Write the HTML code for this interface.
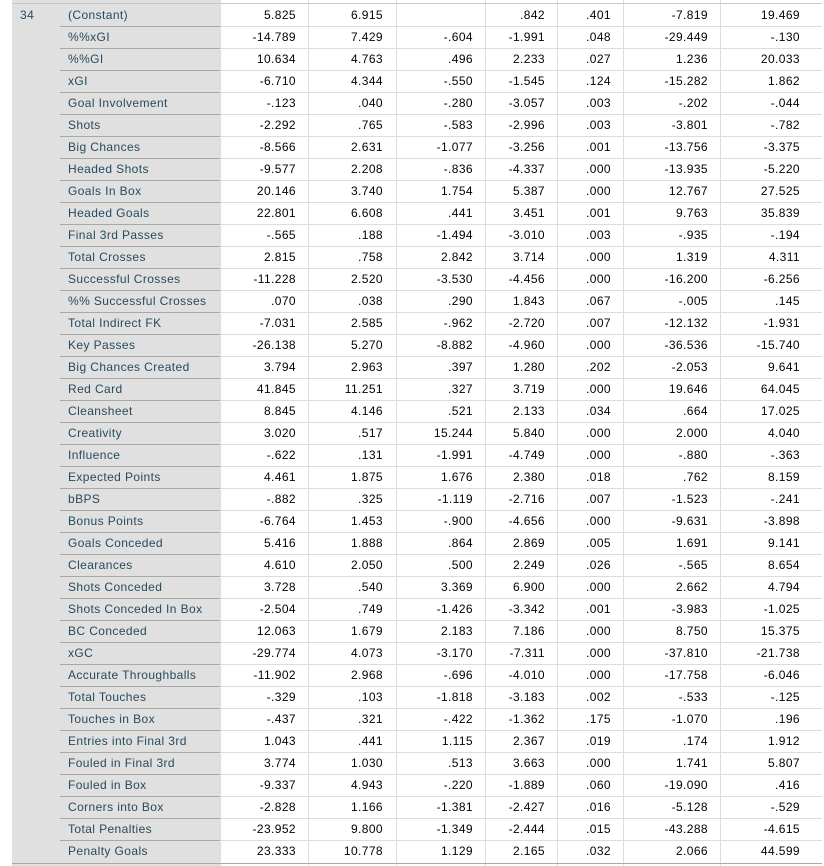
<!DOCTYPE html>
<html><head><meta charset="utf-8">
<style>
body{margin:0;width:824px;height:866px;background:#fff;overflow:hidden;font-family:"Liberation Sans",Arial,sans-serif;font-size:12px;letter-spacing:0.4px}
#wrap{position:relative;width:824px;height:866px}
.grey{position:absolute;left:12px;top:0;width:208px;height:866px;background:#e0e0e0}
.hl{position:absolute;height:1px}
.vl{position:absolute;width:1px;background:#dcdcdc}
.t{position:absolute;white-space:nowrap;line-height:22px;height:22px}
.lab{color:#264a60}
.num{color:#010205;text-align:right}
</style></head><body>
<div id="wrap">
<div class="grey"></div>
<div class="t lab" style="left:20px;top:4px">34</div>
</div>
<script>
const labels=["(Constant)","%%xGI","%%GI","xGI","Goal Involvement","Shots","Big Chances","Headed Shots","Goals In Box","Headed Goals","Final 3rd Passes","Total Crosses","Successful Crosses","%% Successful Crosses","Total Indirect FK","Key Passes","Big Chances Created","Red Card","Cleansheet","Creativity","Influence","Expected Points","bBPS","Bonus Points","Goals Conceded","Clearances","Shots Conceded","Shots Conceded In Box","BC Conceded","xGC","Accurate Throughballs","Total Touches","Touches in Box","Entries into Final 3rd","Fouled in Final 3rd","Fouled in Box","Corners into Box","Total Penalties","Penalty Goals"];
const colB=["5.825","-14.789","10.634","-6.710","-.123","-2.292","-8.566","-9.577","20.146","22.801","-.565","2.815","-11.228",".070","-7.031","-26.138","3.794","41.845","8.845","3.020","-.622","4.461","-.882","-6.764","5.416","4.610","3.728","-2.504","12.063","-29.774","-11.902","-.329","-.437","1.043","3.774","-9.337","-2.828","-23.952","23.333"];
const colSE=["6.915","7.429","4.763","4.344",".040",".765","2.631","2.208","3.740","6.608",".188",".758","2.520",".038","2.585","5.270","2.963","11.251","4.146",".517",".131","1.875",".325","1.453","1.888","2.050",".540",".749","1.679","4.073","2.968",".103",".321",".441","1.030","4.943","1.166","9.800","10.778"];
const colBeta=["","-.604",".496","-.550","-.280","-.583","-1.077","-.836","1.754",".441","-1.494","2.842","-3.530",".290","-.962","-8.882",".397",".327",".521","15.244","-1.991","1.676","-1.119","-.900",".864",".500","3.369","-1.426","2.183","-3.170","-.696","-1.818","-.422","1.115",".513","-.220","-1.381","-1.349","1.129"];
const colT=[".842","-1.991","2.233","-1.545","-3.057","-2.996","-3.256","-4.337","5.387","3.451","-3.010","3.714","-4.456","1.843","-2.720","-4.960","1.280","3.719","2.133","5.840","-4.749","2.380","-2.716","-4.656","2.869","2.249","6.900","-3.342","7.186","-7.311","-4.010","-3.183","-1.362","2.367","3.663","-1.889","-2.427","-2.444","2.165"];
const colSig=[".401",".048",".027",".124",".003",".003",".001",".000",".000",".001",".003",".000",".000",".067",".007",".000",".202",".000",".034",".000",".000",".018",".007",".000",".005",".026",".000",".001",".000",".000",".000",".002",".175",".019",".000",".060",".016",".015",".032"];
const colLo=["-7.819","-29.449","1.236","-15.282","-.202","-3.801","-13.756","-13.935","12.767","9.763","-.935","1.319","-16.200","-.005","-12.132","-36.536","-2.053","19.646",".664","2.000","-.880",".762","-1.523","-9.631","1.691","-.565","2.662","-3.983","8.750","-37.810","-17.758","-.533","-1.070",".174","1.741","-19.090","-5.128","-43.288","2.066"];
const colHi=["19.469","-.130","20.033","1.862","-.044","-.782","-3.375","-5.220","27.525","35.839","-.194","4.311","-6.256",".145","-1.931","-15.740","9.641","64.045","17.025","4.040","-.363","8.159","-.241","-3.898","9.141","8.654","4.794","-1.025","15.375","-21.738","-6.046","-.125",".196","1.912","5.807",".416","-.529","-4.615","44.599"];
const cols=[colB,colSE,colBeta,colT,colSig,colLo,colHi];
const colNames=["b","std-error","beta","t","sig","lower-bound","upper-bound"];
const edges=[220,308,396,485,557,623,720,822];
const rightPad=[12,13,12,12,12,12,22];
const top0=4,rh=22;
const w=document.getElementById('wrap');
const n=labels.length;
const bottom=top0+n*rh;
// vertical lines
for(let i=0;i<edges.length-1;i++){
  const v=document.createElement('div');v.className='vl';
  v.style.left=edges[i]+'px';v.style.top='0px';v.style.height='866px';
  
  
  w.appendChild(v);
}
// top line
const tl=document.createElement('div');tl.className='hl';
tl.style.cssText='left:12px;top:3px;width:810px;background:#c8c8c8';


w.appendChild(tl);
for(let r=0;r<n;r++){
  const y=top0+r*rh;
  const lab=document.createElement('div');lab.className='t lab';
  lab.style.left='68px';lab.style.top=y+'px';lab.textContent=labels[r];
  
  
  w.appendChild(lab);
  for(let c=0;c<cols.length;c++){
    const d=document.createElement('div');d.className='t num';
    d.style.left=edges[c]+'px';d.style.width=(edges[c+1]-edges[c]-rightPad[c])+'px';
    d.style.top=y+'px';d.textContent=cols[c][r];
    
    
    w.appendChild(d);
  }
  if(r<n-1){
    const a=document.createElement('div');a.className='hl';
    a.style.cssText='left:60px;top:'+(y+rh)+'px;width:160px;background:#a8a8a8';
    
    
    w.appendChild(a);
    const b=document.createElement('div');b.className='hl';
    b.style.cssText='left:220px;top:'+(y+rh)+'px;width:602px;background:#dcdcdc';
    
    
    w.appendChild(b);
  }
}
const bl=document.createElement('div');bl.className='hl';
bl.style.cssText='left:12px;top:'+(bottom+1)+'px;width:810px;background:#a8a8a8';


w.appendChild(bl);
</script>
</body></html>
